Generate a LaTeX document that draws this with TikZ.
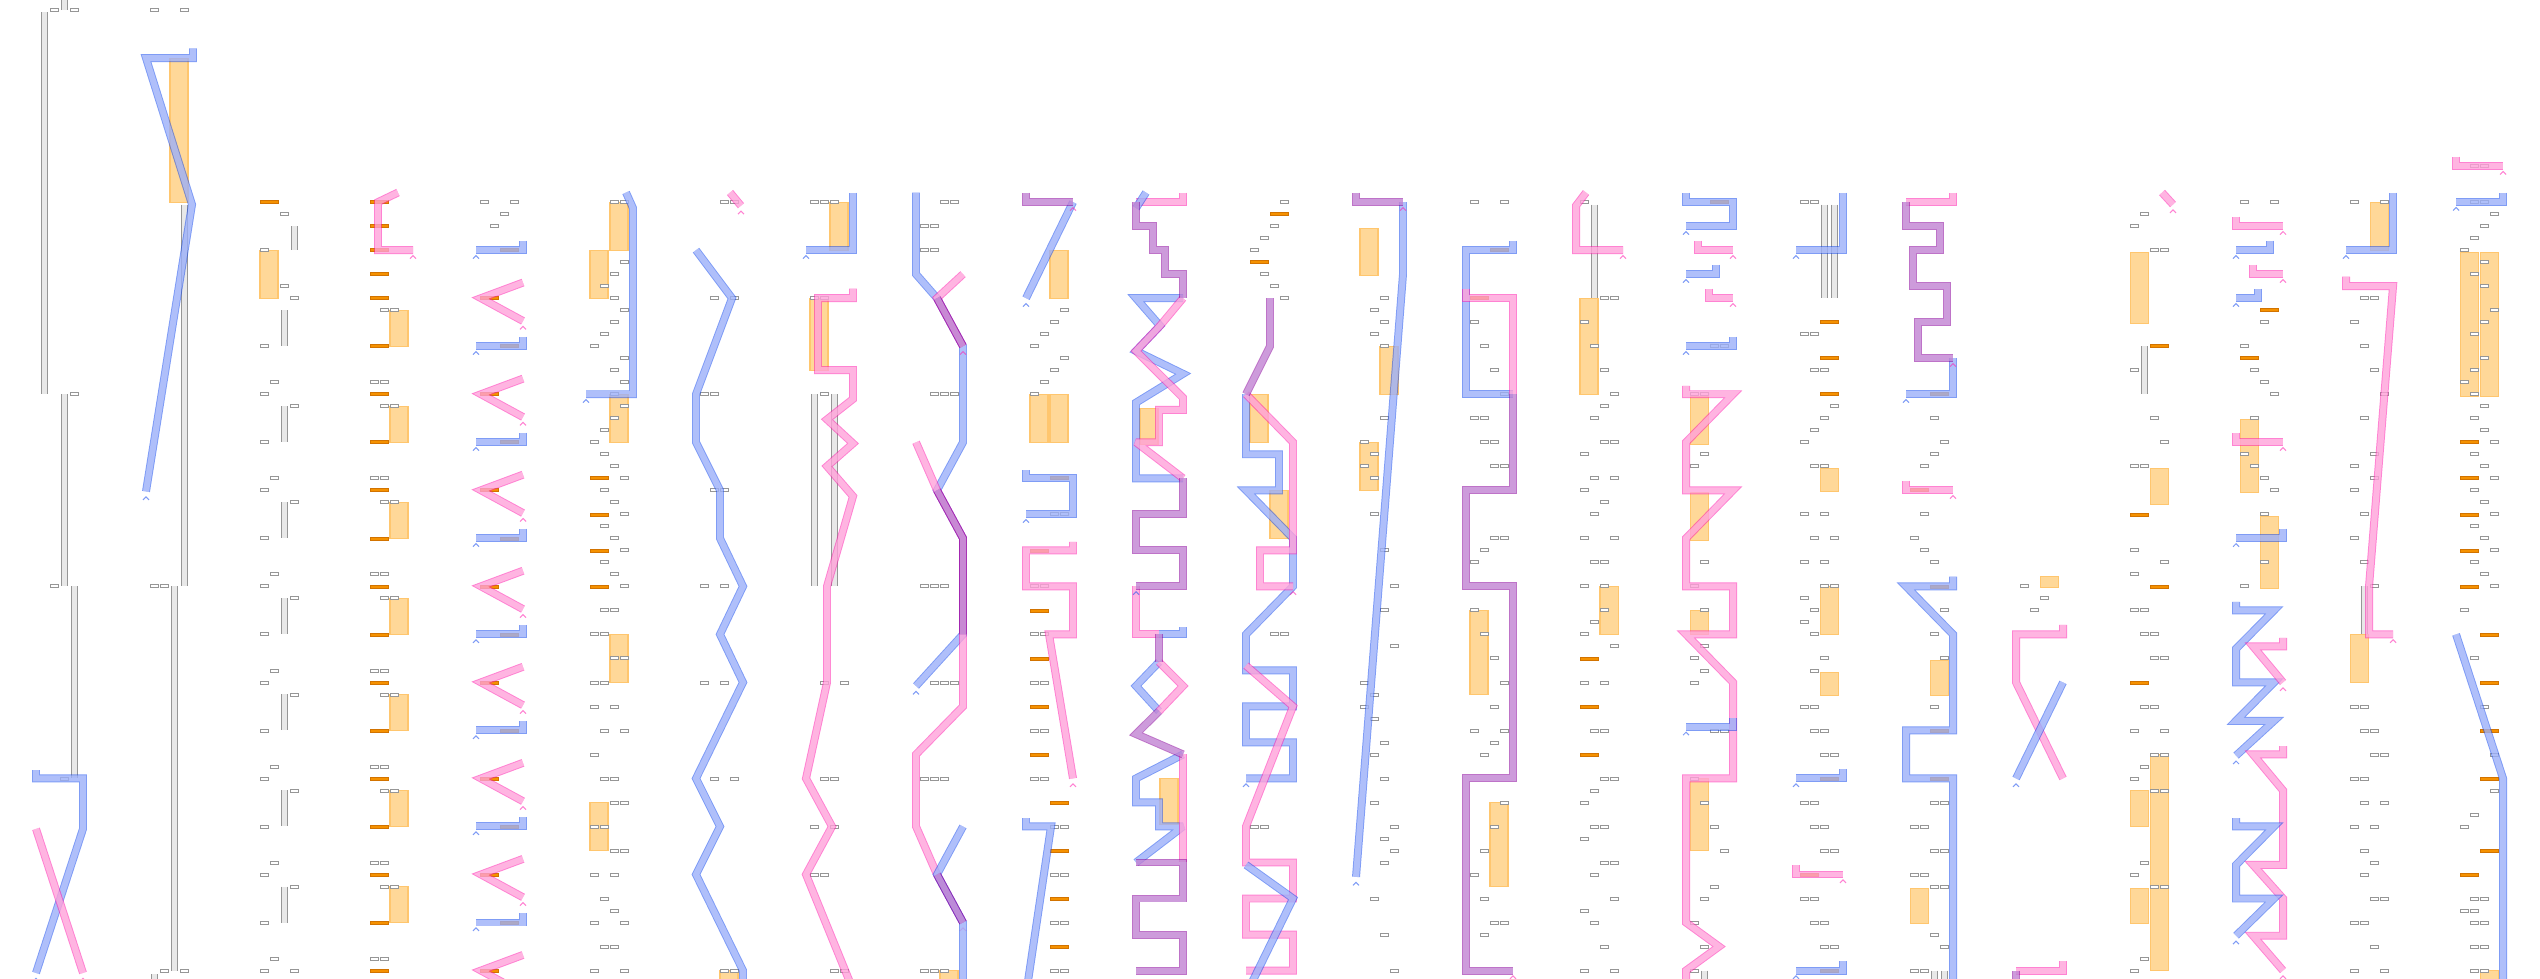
\documentclass[tikz,border=0pt]{standalone}
\usepackage{tikz}

\definecolor{blueedge}{RGB}{22,75,237}
\definecolor{bluefill}{RGB}{216,221,255}
\definecolor{pinkedge}{RGB}{255,28,173}
\definecolor{pinkfill}{RGB}{255,221,237}
\definecolor{purpleedge}{RGB}{137,0,155}
\definecolor{purplefill}{RGB}{217,189,236}
\definecolor{blockfill}{RGB}{255,216,152}
\definecolor{blockedge}{RGB}{255,198,110}
\definecolor{barfill}{RGB}{245,145,0}
\definecolor{baredge}{RGB}{210,115,0}
\definecolor{slotedge}{RGB}{150,150,150}
\definecolor{pipefill}{RGB}{232,232,232}

\newcommand\slots[1]{\foreach \col/\row in {#1} \draw[slotbox] ({8+10*\col},\row-.12) rectangle +(8,.25);}
\newcommand\bars[1]{\foreach \col/\row in {#1} \draw[orangebar] ({8+10*\col},\row-.12) rectangle +(18,.25);}
\newcommand\blocks[1]{\foreach \col/\ra/\rb in {#1} \draw[orangeblock] ({8+10*\col},\ra) rectangle ({26+10*\col},\rb);}
\newcommand\pipes[1]{\foreach \col/\ra/\rb in {#1} {\fill[pipefill] ({9+10*\col},\ra) rectangle ({15+10*\col},\rb);
  \draw[pipeedge] ({9+10*\col},\ra) -- ({9+10*\col},\rb) ({15+10*\col},\ra) -- ({15+10*\col},\rb);}}
\newcommand\tipmark[3]{\draw[#1] ({#2-3},{#3+.7}) -- (#2,{#3+.45}) -- ({#2+3},{#3+.7});}

\begin{document}
\begin{tikzpicture}[x=0.01cm, y=-0.12cm,
  slotbox/.style={draw=slotedge, fill=white, line width=.25pt},
  orangebar/.style={draw=baredge, fill=barfill, line width=.2pt},
  orangeblock/.style={draw=blockedge, fill=blockfill, line width=.3pt},
  pipeedge/.style={draw=slotedge, line width=.28pt},
  band/.style={line width=.28pt, double distance=1.7pt, line join=miter, miter limit=3, draw opacity=.55},
  blueline/.style={band, draw=blueedge, double=bluefill},
  pinkline/.style={band, draw=pinkedge, double=pinkfill},
  purpleline/.style={band, draw=purpleedge, double=purplefill},
  bluemark/.style={draw=blueedge, draw opacity=.55, line width=.3pt},
  pinkmark/.style={draw=pinkedge, draw opacity=.55, line width=.3pt}]
\useasboundingbox (0,0) rectangle (2540,81.5);
\clip (0,0) rectangle (2540,81.5);

\begin{scope}[shift={(32,.8333)}]
\pipes{2/-1/0, 0/.2/32, 2/32/48, 3/48/64}
\slots{1/0, 3/0, 3/32, 1/48, 2/64}
\draw[blueline] (4,63.3) -- (4,64) -- (51,64) -- (51,68.2) -- (4,80.2);
\draw[pinkline] (4,68.2) -- (51,80.2);
\tipmark{bluemark}{4}{80.2}
\tipmark{pinkmark}{51}{80.2}
\end{scope}

\begin{scope}[shift={(142,.8333)}]
\blocks{2/4/16}
\pipes{3/16.2/48, 2/48/80, 0/80.3/82}
\slots{0/0, 3/0, 0/48, 1/48, 1/80, 3/80}
\draw[blueline] (51,3.2) -- (51,4) -- (4,4) -- (50,16.2) -- (4,40.1);
\tipmark{bluemark}{4}{40.1}
\end{scope}

\begin{scope}[shift={(252,.8333)}]
\bars{0/16}
\blocks{0/20/24}
\pipes{3/18/20, 2/25/28}
\slots{2/17, 0/20, 2/23, 3/24, 0/28, 3/80}
\foreach \base in {31,39,...,79} {\slots{1/\base, 0/\base+1, 3/\base+2, 0/\base+5} \pipes{2/\base+2/\base+5}}
\end{scope}

\begin{scope}[shift={(362,.8333)}]
\bars{0/16, 0/18, 0/20, 0/22, 0/24}
\foreach \base in {28,32,...,80} {\bars{0/\base}}
\foreach \base in {25,33,...,73} {\blocks{2/\base/\base+3} \slots{1/\base, 2/\base}}
\foreach \base in {31,39,...,79} {\slots{0/\base, 1/\base}}
\draw[pinkline] (36,15.2) -- (16,16) -- (16,20) -- (51,20);
\tipmark{pinkmark}{51}{20}
\end{scope}

\begin{scope}[shift={(472,.8333)}]
\slots{0/16, 3/16, 2/17, 1/18}
\foreach \base in {20,28,...,76} {\bars{2/\base}
  \draw[blueline] (51,\base-.8) -- (51,\base) -- (4,\base);
  \tipmark{bluemark}{4}{\base}}
\foreach \base in {24,32,...,80} {\bars{0/\base}
  \draw[pinkline] (51,\base-1.3) -- (9,\base) -- (51,\base+1.9);
  \tipmark{pinkmark}{51}{\base+1.9}}
\end{scope}

\begin{scope}[shift={(582,.8333)}]
\blocks{2/16/20, 0/20/24, 2/32/36, 2/52/56, 0/66/70}
\bars{0/39, 0/42, 0/45, 0/48}
\slots{2/16, 3/16, 3/21, 2/22, 1/23, 2/24, 3/25, 2/26, 1/27, 0/28, 3/29, 2/30, 3/31, 2/32, 3/33, 2/34, 1/35,
  0/36, 1/37, 2/38, 3/39, 1/40, 2/41, 3/42, 1/43, 2/44, 3/45, 1/46, 2/47, 3/48, 1/50, 2/50, 0/52, 1/52, 2/54, 3/54,
  0/56, 1/56, 0/58, 2/58, 1/60, 3/60, 0/62, 1/64, 2/64, 2/66, 3/66, 0/68, 1/68, 2/70, 3/70, 0/72, 2/72, 1/74, 2/75,
  0/76, 3/76, 1/78, 2/78, 0/80, 3/80}
\draw[blueline] (44,15.2) -- (51,16.5) -- (51,32) -- (4,32);
\tipmark{bluemark}{4}{32}
\end{scope}

\begin{scope}[shift={(692,.8333)}]
\blocks{2/80/82}
\slots{2/16, 3/16, 1/24, 3/24, 0/32, 1/32, 1/40, 2/40, 0/48, 2/48, 0/56, 2/56, 1/64, 3/64, 2/80, 3/80}
\draw[pinkline] (38,15.2) -- (49,16.3);
\tipmark{pinkmark}{49}{16.3}
\draw[blueline] (4,20) -- (40,24) -- (4,32) -- (4,36) -- (28,40) -- (28,44) -- (51,48) -- (28,52) -- (51,56)
  -- (4,64) -- (28,68) -- (4,72) -- (51,80) -- (51,82);
\end{scope}

\begin{scope}[shift={(802,.8333)}]
\blocks{2/16/20, 0/24/30}
\pipes{0/32/48, 2/32/48}
\slots{0/16, 1/16, 2/16, 0/24, 1/24, 1/32, 1/56, 3/56, 1/64, 2/64, 0/68, 2/68, 0/72, 1/72, 2/80, 3/80}
\draw[blueline] (51,15.2) -- (51,20) -- (4,20);
\tipmark{bluemark}{4}{20}
\draw[pinkline] (51,23.2) -- (51,24) -- (16,24) -- (16,30) -- (51,30) -- (51,32.4) -- (25,34.1) -- (51,36.1)
  -- (25,38) -- (51,40.5) -- (25,48) -- (25,56) -- (4,64) -- (30,68) -- (4,72) -- (51,81.6);
\end{scope}

\begin{scope}[shift={(912,.8333)}]
\blocks{2/80/82}
\slots{2/16, 3/16, 0/18, 1/18, 0/20, 1/20, 1/32, 2/32, 3/32, 0/48, 1/48, 2/48, 1/56, 2/56, 3/56,
  0/64, 1/64, 2/64, 0/80, 1/80, 2/80}
\draw[blueline] (4,15.2) -- (4,22) -- (25,24) -- (51,28) -- (51,36) -- (25,40) -- (51,44) -- (51,52) -- (4,56.3);
\tipmark{bluemark}{4}{56.3}
\draw[pinkline] (51,22) -- (25,24) -- (51,28);
\tipmark{pinkmark}{51}{28}
\draw[pinkline] (4,36) -- (25,40) -- (51,44) -- (51,58) -- (4,62) -- (4,68) -- (25,72) -- (51,76);
\tipmark{pinkmark}{51}{76}
\draw[blueline] (51,68) -- (25,72) -- (51,76) -- (51,82);
\draw[purpleline] (25,24) -- (51,28);
\draw[purpleline] (25,40) -- (51,44) -- (51,52);
\draw[purpleline] (25,72) -- (51,76);
\end{scope}

\begin{scope}[shift={(1022,.8333)}]
\blocks{2/20/24, 0/32/36, 2/32/36}
\bars{2/39, 0/45, 0/50, 0/54, 0/58, 0/62, 2/66, 2/70, 2/74, 2/78}
\slots{3/25, 2/26, 1/27, 0/28, 3/29, 2/30, 1/31, 0/32, 2/42, 3/42, 0/48, 1/48, 0/52, 1/52, 0/56, 1/56,
  0/60, 1/60, 0/64, 1/64, 2/68, 3/68, 2/72, 3/72, 2/76, 3/76, 2/80, 3/80}
\draw[blueline] (51,16) -- (4,24);
\tipmark{bluemark}{4}{24}
\draw[purpleline] (4,15.2) -- (4,16) -- (51,16);
\tipmark{pinkmark}{51}{16}
\draw[blueline] (4,38.3) -- (4,39) -- (51,39) -- (51,42) -- (4,42);
\tipmark{bluemark}{4}{42}
\draw[pinkline] (51,44.3) -- (51,45) -- (4,45) -- (4,48) -- (51,48) -- (51,52) -- (27,52) -- (51,64);
\tipmark{pinkmark}{51}{64}
\draw[blueline] (4,67.3) -- (4,68) -- (29,68) -- (4,82);
\end{scope}

\begin{scope}[shift={(1132,.8333)}]
\blocks{0/33.2/36.2, 2/64/67.8}
\draw[pinkline] (51,15.2) -- (51,16) -- (4,16);
\draw[blueline] (14,15.2) -- (4,16.5);
\draw[blueline] (51,24) -- (4,24) -- (28,26.3) -- (4,28.4) -- (51,30.3) -- (4,32.7) -- (4,39) -- (51,39);
\draw[pinkline] (51,24) -- (28,26.3) -- (4,28.4) -- (51,32.3) -- (51,33.3) -- (27,33.3) -- (27,36) -- (4,36) -- (51,39);
\draw[pinkline] (4,48) -- (4,52) -- (27,52);
\draw[blueline] (51,51.4) -- (51,52) -- (27,52);
\draw[blueline] (27,54.3) -- (4,56.3) -- (27,58.4);
\draw[pinkline] (27,54.3) -- (51,56.3) -- (27,58.4);
\draw[blueline] (51,62) -- (4,64) -- (4,66) -- (27,66) -- (27,68) -- (51,68) -- (4,71);
\draw[pinkline] (51,62) -- (51,71);
\draw[purpleline] (4,16) -- (4,18) -- (21,18) -- (21,20) -- (33,20) -- (33,22) -- (51,22) -- (51,24);
\draw[purpleline] (51,39) -- (51,42) -- (4,42) -- (4,45) -- (51,45) -- (51,48) -- (4,48);
\tipmark{bluemark}{4}{48}
\draw[purpleline] (27,52) -- (27,54.3);
\draw[purpleline] (27,58.4) -- (4,60.3) -- (51,62);
\draw[purpleline] (4,71) -- (51,71) -- (51,74) -- (4,74) -- (4,77) -- (51,77) -- (51,80) -- (4,80);
\end{scope}

\begin{scope}[shift={(1242,.8333)}]
\blocks{0/32/36, 2/40/44}
\bars{2/17, 0/21}
\slots{3/16, 2/18, 1/19, 0/20, 1/22, 2/23, 3/24, 2/52, 3/52, 0/68, 1/68}
\draw[blueline] (4,32) -- (4,37) -- (37,37) -- (37,40) -- (4,40) -- (51,44) -- (51,48) -- (4,52) -- (4,55)
  -- (51,55) -- (51,58) -- (4,58) -- (4,61) -- (51,61) -- (51,64) -- (4,64);
\tipmark{bluemark}{4}{64}
\draw[pinkline] (4,32) -- (51,36) -- (51,45) -- (18,45) -- (18,48) -- (51,48);
\tipmark{pinkmark}{51}{48}
\draw[pinkline] (4,54.6) -- (51,58) -- (4,68) -- (4,71) -- (51,71) -- (51,74) -- (4,74) -- (4,77) -- (51,77)
  -- (51,80) -- (4,80);
\draw[blueline] (4,71.2) -- (51,74) -- (4,82);
\draw[purpleline] (28,24) -- (28,28) -- (4,32);
\end{scope}

\begin{scope}[shift={(1352,.8333)}]
\blocks{0/18.2/22.1, 2/28/32, 0/36/40}
\slots{2/24, 1/25, 2/26, 1/27, 2/28, 2/34, 0/36, 1/37, 0/38, 1/39, 1/42, 2/45, 3/48, 2/50, 3/53, 0/56,
  1/57, 0/58, 1/59, 2/61, 1/62, 2/64, 1/66, 3/68, 2/69, 3/70, 2/71, 1/74, 2/77, 3/80}
\draw[blueline] (51,16) -- (51,22) -- (4,72.2);
\tipmark{bluemark}{4}{72.2}
\draw[purpleline] (4,15.2) -- (4,16) -- (51,16);
\tipmark{pinkmark}{51}{16}
\end{scope}

\begin{scope}[shift={(1462,.8333)}]
\blocks{0/50/57, 2/66/73}
\bars{2/20, 0/24}
\slots{0/16, 3/16, 0/26, 1/28, 2/30, 3/32, 0/34, 1/34, 1/36, 2/36, 2/38, 3/38, 2/44, 3/44, 1/45, 0/46,
  0/50, 1/52, 2/54, 3/56, 2/58, 0/60, 3/60, 2/61, 1/62, 3/66, 2/68, 1/70, 0/72, 1/74, 2/76, 3/76, 1/77}
\draw[blueline] (51,19.2) -- (51,20) -- (4,20) -- (4,32) -- (51,32);
\draw[pinkline] (4,23.2) -- (4,24) -- (51,24) -- (51,32);
\draw[purpleline] (51,32) -- (51,40) -- (4,40) -- (4,48) -- (51,48) -- (51,64) -- (4,64) -- (4,80) -- (51,80);
\tipmark{pinkmark}{51}{80}
\end{scope}

\begin{scope}[shift={(1572,.8333)}]
\pipes{1/16.2/24}
\blocks{0/24/32, 2/48/52}
\bars{0/54, 0/58, 0/62}
\slots{0/16, 2/24, 3/24, 0/26, 1/28, 2/30, 3/32, 2/33, 1/34, 2/36, 3/36, 0/37, 1/39, 3/39, 0/40, 2/41,
  1/42, 0/44, 3/44, 1/46, 2/46, 0/48, 2/48, 2/50, 1/51, 0/52, 3/53, 0/56, 2/56, 1/60, 2/60, 2/64, 3/64,
  1/65, 0/66, 1/68, 2/68, 0/69, 2/71, 3/71, 1/72, 3/74, 0/75, 1/76, 2/78, 0/80, 3/80}
\draw[pinkline] (14,15.2) -- (4,16.3) -- (4,20) -- (51,20);
\tipmark{pinkmark}{51}{20}
\end{scope}

\begin{scope}[shift={(1682,.8333)}]
\blocks{0/32.2/36.2, 0/40.2/44.2, 0/50/52, 0/64/70}
\bars{2/16}
\pipes{1/80/82}
\slots{2/28, 3/28, 0/32, 1/32, 1/37, 0/38, 1/46, 0/48, 1/50, 1/53, 0/54, 1/55, 0/56, 2/60, 3/60, 0/64,
  1/66, 2/68, 3/70, 2/73, 1/74, 0/76, 1/78, 0/80}
\draw[blueline] (4,15.2) -- (4,16) -- (51,16) -- (51,18) -- (4,18);
\tipmark{bluemark}{4}{18}
\draw[pinkline] (16,19.2) -- (16,20) -- (51,20);
\tipmark{pinkmark}{51}{20}
\draw[blueline] (34,21.2) -- (34,22) -- (4,22);
\tipmark{bluemark}{4}{22}
\draw[pinkline] (27,23.2) -- (27,24) -- (51,24);
\tipmark{pinkmark}{51}{24}
\draw[blueline] (51,27.2) -- (51,28) -- (4,28);
\tipmark{bluemark}{4}{28}
\draw[pinkline] (4,31.3) -- (4,32) -- (51,32) -- (4,36) -- (4,40) -- (51,40) -- (4,44) -- (4,48) -- (51,48)
  -- (51,52) -- (4,52) -- (51,56) -- (51,64) -- (4,64) -- (4,76) -- (37,78) -- (4,80) -- (4,82);
\draw[blueline] (51,59) -- (51,59.7) -- (4,59.7);
\tipmark{bluemark}{4}{59.7}
\end{scope}

\begin{scope}[shift={(1792,.8333)}]
\pipes{2/16.2/24, 3/16.2/24}
\blocks{2/38.2/40.1, 2/48/52, 2/55.2/57.1}
\bars{2/26, 2/29, 2/32, 2/64, 0/72, 2/80}
\slots{0/16, 1/16, 0/27, 1/27, 1/30, 2/30, 3/33, 2/34, 1/35, 0/36, 1/38, 2/38, 0/42, 2/42, 1/44, 3/44,
  0/46, 2/46, 2/48, 3/48, 0/49, 1/50, 0/51, 1/52, 2/54, 1/55, 0/58, 1/58, 1/60, 2/60, 2/62, 3/62,
  0/66, 1/66, 1/68, 2/68, 2/70, 3/70, 0/74, 1/74, 1/76, 2/76, 2/78, 3/78}
\draw[blueline] (51,15.2) -- (51,20) -- (4,20);
\tipmark{bluemark}{4}{20}
\draw[blueline] (51,63.2) -- (51,64) -- (4,64);
\tipmark{bluemark}{4}{64}
\draw[pinkline] (4,71.2) -- (4,72) -- (51,72);
\tipmark{pinkmark}{51}{72}
\draw[blueline] (51,79.2) -- (51,80) -- (4,80);
\tipmark{bluemark}{4}{80}
\end{scope}

\begin{scope}[shift={(1902,.8333)}]
\pipes{2/80/82, 3/80/82}
\blocks{2/54.2/57.1, 0/73.2/76.1}
\bars{2/32, 0/40, 2/48, 2/60, 2/64}
\slots{2/34, 3/36, 2/37, 1/38, 1/42, 0/44, 1/45, 2/46, 3/50, 2/52, 3/54, 2/58, 2/66, 3/66, 0/68, 1/68,
  2/70, 3/70, 0/72, 1/72, 2/73, 3/73, 2/77, 3/78, 0/80, 1/80}
\draw[pinkline] (51,15.2) -- (51,16) -- (4,16);
\draw[blueline] (51,29) -- (51,32) -- (4,32);
\tipmark{bluemark}{4}{32}
\draw[purpleline] (4,16) -- (4,18) -- (38,18) -- (38,20) -- (11,20) -- (11,23) -- (45,23) -- (45,26) -- (16,26)
  -- (16,29) -- (51,29);
\tipmark{pinkmark}{51}{29}
\draw[pinkline] (4,39.2) -- (4,40) -- (51,40);
\tipmark{pinkmark}{51}{40}
\draw[blueline] (51,47.2) -- (51,48) -- (4,48) -- (51,52) -- (51,60) -- (4,60) -- (4,64) -- (51,64) -- (51,82);
\end{scope}

\begin{scope}[shift={(2012,.8333)}]
\blocks{2/47.2/48.1}
\slots{0/48, 2/49, 1/50}
\draw[pinkline] (51,51.2) -- (51,52) -- (4,52) -- (4,56) -- (51,64);
\draw[blueline] (51,56) -- (4,64);
\tipmark{bluemark}{4}{64}
\draw[pinkline] (51,79.2) -- (51,80) -- (4,80);
\draw[purpleline] (4,80) -- (4,82);
\end{scope}

\begin{scope}[shift={(2122,.8333)}]
\blocks{0/20.2/26.1, 2/38.2/41.2, 2/62/80, 0/65/68, 0/73.2/76.1}
\bars{2/28, 0/42, 2/48, 0/56}
\pipes{1/28/32}
\slots{1/17, 0/18, 2/20, 3/20, 0/30, 2/34, 3/36, 0/38, 1/38, 0/45, 3/46, 0/47, 0/50, 1/50, 1/52, 2/52,
  2/54, 3/54, 1/58, 2/58, 0/60, 3/60, 2/62, 3/62, 1/63, 0/64, 2/65, 3/65, 1/71, 0/72, 2/73, 3/73, 1/79, 0/80}
\draw[pinkline] (40,15.2) -- (51,16.2);
\tipmark{pinkmark}{51}{16.2}
\end{scope}

\begin{scope}[shift={(2232,.8333)}]
\blocks{0/34.1/40.2, 2/42.2/48.2}
\bars{2/25, 0/29}
\slots{0/16, 3/16, 2/26, 0/28, 1/30, 2/31, 3/32, 1/34, 0/37, 1/38, 2/39, 3/40, 2/42, 2/46, 0/48}
\draw[pinkline] (4,17.2) -- (4,18) -- (51,18);
\tipmark{pinkmark}{51}{18}
\draw[blueline] (38,19.2) -- (38,20) -- (4,20);
\tipmark{bluemark}{4}{20}
\draw[pinkline] (21,21.2) -- (21,22) -- (51,22);
\tipmark{pinkmark}{51}{22}
\draw[blueline] (26,23.2) -- (26,24) -- (4,24);
\tipmark{bluemark}{4}{24}
\draw[pinkline] (4,35.2) -- (4,36) -- (51,36);
\tipmark{pinkmark}{51}{36}
\draw[blueline] (51,43.2) -- (51,44) -- (4,44);
\tipmark{bluemark}{4}{44}
\draw[blueline] (4,49.3) -- (4,50) -- (42,50) -- (4,53.2) -- (4,56) -- (42,56) -- (4,59.2) -- (42,59.2) -- (4,62.1);
\tipmark{bluemark}{4}{62.1}
\draw[pinkline] (51,52.3) -- (51,53) -- (21,53) -- (51,56);
\tipmark{pinkmark}{51}{56}
\draw[pinkline] (51,61.3) -- (51,62) -- (21,62) -- (51,65) -- (51,71.2) -- (21,71.2) -- (51,74) -- (51,77.1)
  -- (21,77.1) -- (51,80);
\tipmark{pinkmark}{51}{80}
\draw[blueline] (4,67.3) -- (4,68) -- (42,68) -- (4,71.2) -- (4,74) -- (42,74) -- (4,77.1);
\tipmark{bluemark}{4}{77.1}
\end{scope}

\begin{scope}[shift={(2342,.8333)}]
\blocks{2/16/20, 0/52/56}
\pipes{1/48/52}
\slots{0/16, 3/16, 1/24, 2/24, 0/26, 1/28, 2/30, 3/32, 1/34, 2/37, 0/38, 2/39, 0/40, 1/42, 0/44, 1/46,
  2/48, 0/58, 1/58, 1/60, 2/60, 2/62, 3/62, 0/64, 1/64, 1/66, 3/66, 0/68, 2/68, 1/70, 2/71, 1/72,
  2/74, 3/74, 0/76, 1/76, 2/78, 0/80, 3/80}
\draw[blueline] (51,15.2) -- (51,20) -- (4,20);
\tipmark{bluemark}{4}{20}
\draw[pinkline] (4,22.2) -- (4,23) -- (51,23) -- (27,48) -- (27,52) -- (51,52);
\tipmark{pinkmark}{51}{52}
\end{scope}

\begin{scope}[shift={(2452,.8333)}]
\blocks{0/20.2/32.2, 2/20.2/32.2, 2/80/82}
\bars{0/36, 0/39, 0/42, 0/45, 0/48, 2/52, 2/56, 2/60, 2/64, 2/70, 0/72}
\slots{1/13, 2/13, 1/16, 2/16, 3/17, 2/18, 1/19, 0/20, 2/21, 1/22, 2/23, 3/25, 2/26, 1/27, 2/29, 1/30,
  0/31, 1/32, 2/33, 1/34, 2/35, 3/36, 1/37, 2/38, 3/39, 1/40, 2/41, 3/42, 1/43, 2/44, 3/45, 1/46, 2/47,
  3/48, 0/50, 1/54, 2/58, 3/62, 3/65, 1/67, 0/68, 1/74, 2/74, 0/75, 1/75, 1/76, 2/76, 1/78, 2/78, 1/80, 2/80}
\draw[pinkline] (4,12.2) -- (4,13) -- (51,13);
\tipmark{pinkmark}{51}{13}
\draw[blueline] (51,15.2) -- (51,16) -- (4,16);
\tipmark{bluemark}{4}{16}
\draw[blueline] (4,52) -- (51,64) -- (51,82);
\end{scope}
\end{tikzpicture}
\end{document}
